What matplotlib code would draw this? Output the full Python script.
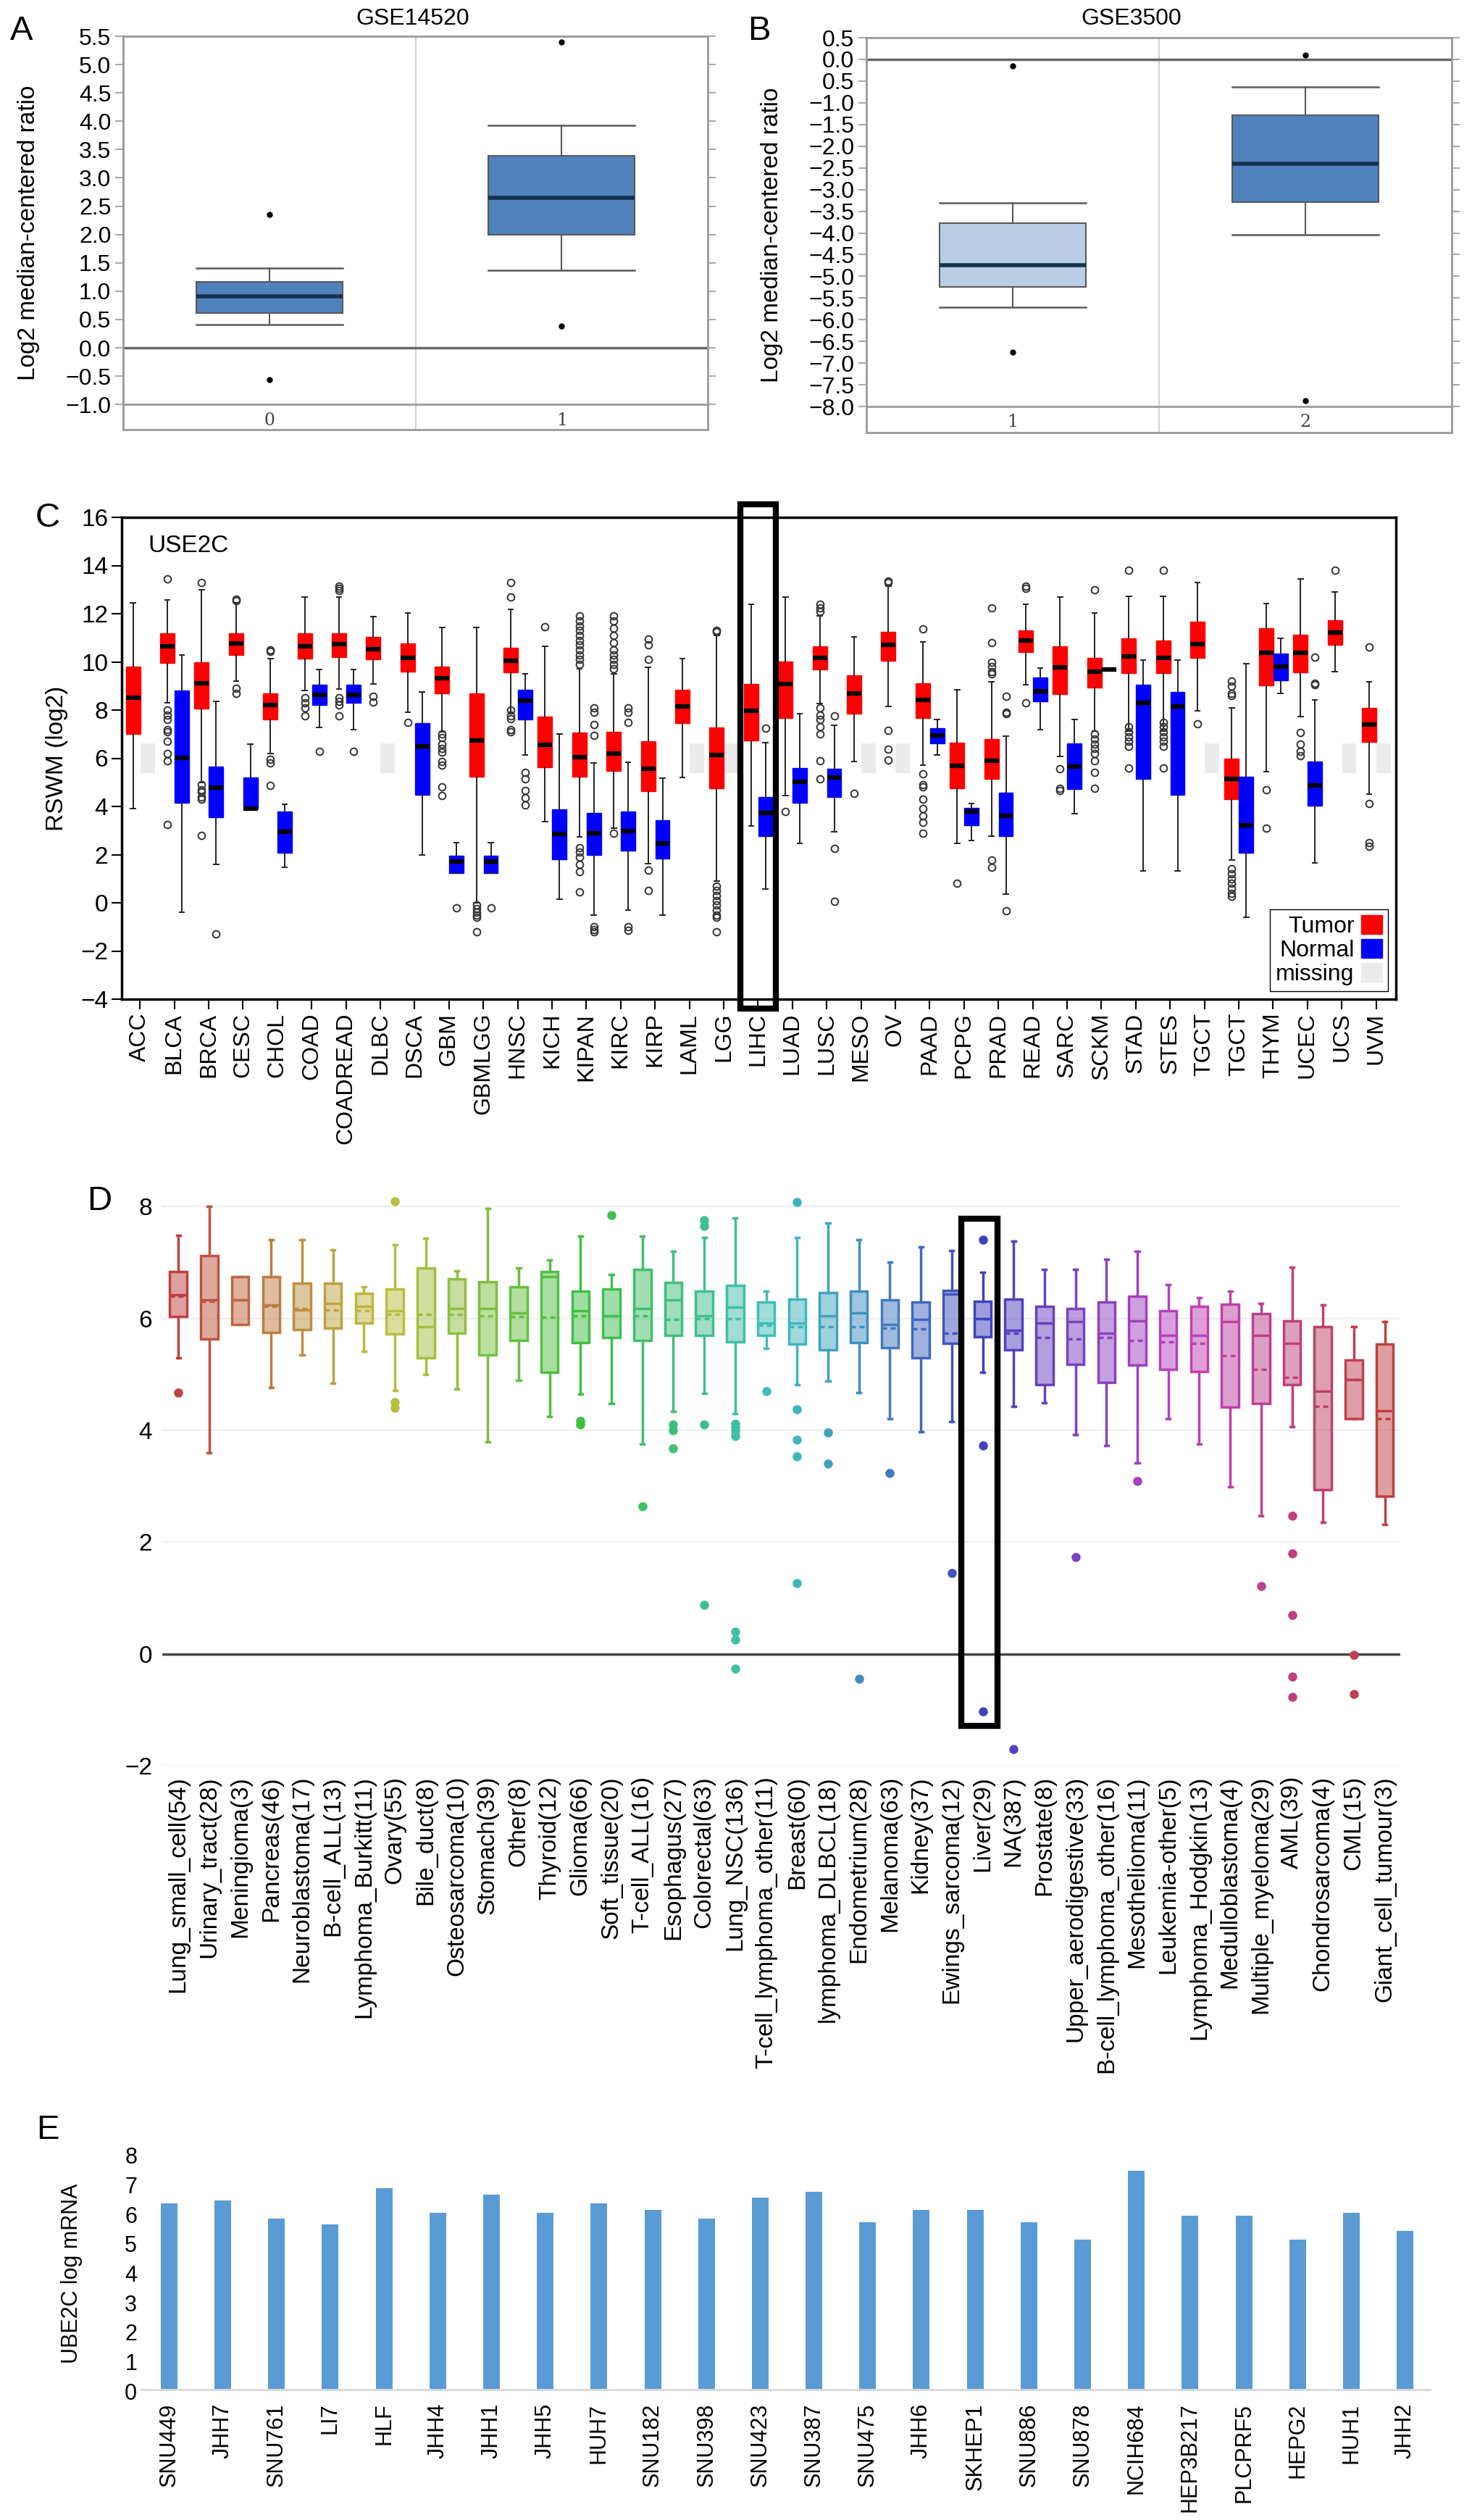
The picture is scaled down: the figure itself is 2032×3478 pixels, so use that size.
import colorsys
import numpy as np
import matplotlib
matplotlib.use('Agg')
import matplotlib.pyplot as plt
from matplotlib.patches import Rectangle, Patch

plt.rcParams['font.family'] = ['Liberation Sans', 'DejaVu Sans']
plt.rcParams['axes.unicode_minus'] = True

W, H = 2032, 3478

# ---- panel A / B : Oncomine boxes (whislo, q1, med, q3, whishi)
a_groups = ['0', '1']
a_boxes = [(0.41, 0.62, 0.91, 1.17, 1.41), (1.37, 2.00, 2.65, 3.39, 3.93)]
a_out = [[2.36, -0.56], [5.40, 0.38]]
a_fill = ['#4f81bd', '#4f81bd']

b_groups = ['1', '2']
b_boxes = [(-5.71, -5.25, -4.75, -3.77, -3.31), (-4.05, -3.29, -2.40, -1.28, -0.64)]
b_out = [[-0.15, -6.75], [0.10, -7.87]]
b_fill = ['#b9cde5', '#4f81bd']

# ---- panel C : TCGA tumor / normal
c_types = ['ACC', 'BLCA', 'BRCA', 'CESC', 'CHOL', 'COAD', 'COADREAD', 'DLBC', 'DSCA', 'GBM',
           'GBMLGG', 'HNSC', 'KICH', 'KIPAN', 'KIRC', 'KIRP', 'LAML', 'LGG', 'LIHC', 'LUAD',
           'LUSC', 'MESO', 'OV', 'PAAD', 'PCPG', 'PRAD', 'READ', 'SARC', 'SCKM', 'STAD',
           'STES', 'TGCT', 'TGCT', 'THYM', 'UCEC', 'UCS', 'UVM']
c_tumor = [(3.9, 7.0, 8.5, 9.8, 12.45), (8.3, 9.95, 10.66, 11.2, 12.56), (5.0, 8.05, 9.1, 10.0, 13.0),
           (9.2, 10.3, 10.78, 11.2, 12.45), (6.2, 7.62, 8.2, 8.7, 10.14), (8.8, 10.14, 10.66, 11.2, 12.7),
           (8.86, 10.2, 10.73, 11.2, 12.68), (9.09, 10.1, 10.54, 11.03, 11.89), (7.9, 9.58, 10.17, 10.78, 12.04),
           (7.1, 8.68, 9.31, 9.79, 11.44), (0.0, 5.23, 6.74, 8.68, 11.44), (7.9, 9.57, 10.06, 10.58, 12.19),
           (3.36, 5.62, 6.55, 7.74, 10.66), (2.73, 5.23, 6.05, 7.07, 9.7), (3.1, 5.47, 6.2, 7.11, 9.5),
           (1.61, 4.63, 5.57, 6.7, 9.76), (5.2, 7.47, 8.16, 8.83, 10.14), (0.9, 4.75, 6.13, 7.29, 11.1),
           (3.18, 6.73, 7.97, 9.09, 12.38), (4.45, 7.67, 9.09, 10.02, 12.68), (8.27, 9.69, 10.17, 10.66, 11.9),
           (5.87, 7.85, 8.69, 9.43, 11.03), (8.16, 10.06, 10.7, 11.26, 13.13), (5.72, 7.67, 8.42, 9.12, 10.84),
           (2.46, 4.75, 5.69, 6.65, 8.83), (2.76, 5.15, 5.9, 6.8, 9.16), (9.04, 10.4, 10.88, 11.3, 12.38),
           (6.07, 8.67, 9.76, 10.66, 12.68), (7.14, 8.94, 9.58, 10.18, 12.04), (7.14, 9.54, 10.24, 10.99, 12.72),
           (7.14, 9.54, 10.18, 10.88, 12.72), (7.97, 10.17, 10.73, 11.66, 13.3), (1.76, 4.3, 5.13, 5.98, 8.1),
           (5.45, 9.01, 10.39, 11.41, 12.41), (7.74, 9.57, 10.39, 11.14, 13.43), (9.58, 10.7, 11.23, 11.74, 12.9),
           (4.5, 6.67, 7.4, 8.09, 9.16)]
c_tumor_out = [[], [13.45, 8.0, 7.8, 7.6, 7.2, 7.1, 6.7, 6.2, 5.9, 3.25], [13.3, 4.9, 4.7, 4.6, 4.4, 4.3, 2.8],
               [12.6, 12.55, 8.9, 8.7], [10.5, 10.45, 5.95, 5.8, 4.87], [8.5, 8.3, 8.1, 7.75],
               [13.15, 13.05, 12.95, 8.5, 8.35, 8.2, 7.75], [8.57, 8.34], [7.49],
               [7.0, 6.85, 6.6, 6.4, 6.25, 5.85, 5.7, 4.8, 4.45], [-0.1, -0.25, -0.4, -0.5, -0.6, -1.2],
               [13.28, 12.68, 8.0, 7.75, 7.65, 7.2, 7.1], [11.45],
               [11.9, 11.7, 11.5, 11.3, 11.1, 10.9, 10.7, 10.5, 10.3, 10.1, 9.9, 2.3, 2.1, 1.9, 1.6, 1.3, 0.45],
               [11.9, 11.7, 11.4, 11.1, 10.8, 10.5, 10.3, 10.1, 9.9, 9.7, 2.9], [10.95, 10.7, 10.1, 1.35, 0.5],
               [], [11.3, 11.25, 0.7, 0.5, 0.3, 0.1, -0.1, -0.3, -0.5, -0.6, -1.2], [], [3.78],
               [12.4, 12.25, 12.1, 8.1, 7.8, 7.6, 7.3, 7.0, 5.9, 5.15], [4.53], [13.35, 13.3, 7.15, 6.37, 5.92],
               [11.38, 5.35, 4.9, 4.8, 4.3, 3.9, 3.6, 3.35, 2.88], [0.82], [12.23, 10.8, 10.0, 9.8, 9.6, 9.5, 1.76, 1.46],
               [13.15, 13.05, 8.31], [5.57, 4.75, 4.65], [13.0, 7.0, 6.8, 6.6, 6.4, 6.2, 5.9, 5.4, 4.75],
               [13.8, 7.3, 7.1, 6.9, 6.7, 6.5, 5.6], [13.8, 7.5, 7.3, 7.1, 6.9, 6.7, 6.5, 5.6], [7.44],
               [9.2, 9.0, 8.7, 8.6, 1.4, 1.2, 1.0, 0.8, 0.6, 0.4, 0.26], [4.68, 3.1], [7.07, 6.6, 6.3, 6.1],
               [13.8], [10.62, 4.12, 2.5, 2.35]]
c_normal = [None, (-0.4, 4.15, 6.02, 8.82, 10.3), (1.6, 3.55, 4.78, 5.65, 8.37), (3.9, 3.9, 3.9, 5.2, 6.58),
            (1.46, 2.09, 2.95, 3.78, 4.08), (7.29, 8.22, 8.64, 9.06, 9.69), (7.19, 8.3, 8.64, 9.06, 9.69),
            None, (2.0, 4.48, 6.5, 7.47, 8.76), (1.24, 1.24, 1.71, 1.95, 2.5), (1.24, 1.24, 1.71, 1.95, 2.5),
            (6.13, 7.62, 8.39, 8.83, 9.49), (0.14, 1.8, 2.85, 3.88, 7.0), (-0.5, 2.0, 2.88, 3.73, 5.8),
            (-0.29, 2.16, 2.99, 3.78, 5.83), (-0.51, 1.83, 2.48, 3.43, 5.17), None, None,
            (0.56, 2.76, 3.73, 4.38, 6.65), (2.46, 4.15, 5.02, 5.6, 7.85), (2.96, 4.38, 5.2, 5.57, 7.37),
            None, None, (6.13, 6.62, 6.96, 7.26, 7.62), (2.58, 3.21, 3.78, 3.93, 4.11),
            (0.37, 2.76, 3.6, 4.56, 6.92), (7.19, 8.37, 8.79, 9.34, 9.73), (3.7, 4.71, 5.65, 6.62, 7.62),
            (9.69, 9.69, 9.69, 9.69, 9.69), (1.31, 5.15, 8.31, 9.06, 10.09), (1.31, 4.48, 8.16, 8.75, 10.09),
            None, (-0.6, 2.09, 3.21, 5.23, 9.91), (8.68, 9.24, 9.81, 10.36, 10.99), (1.64, 4.03, 4.87, 5.87, 8.42),
            None, None]
c_normal_out = [[], [], [-1.3], [], [], [6.29], [6.29], [], [], [-0.21], [-0.21], [5.4, 5.15, 4.65, 4.35, 4.05],
                [], [8.1, 7.9, 7.4, 6.95, -1.0, -1.1, -1.2], [8.1, 7.9, 7.5, -1.0, -1.15], [], [], [], [7.26], [],
                [7.75, 2.25, 0.07], [], [], [], [], [8.57, 7.9, 7.85, -0.33], [], [], [], [], [], [], [], [],
                [10.21, 9.1, 9.05], [], []]
c_missing = (5.38, 6.62)

# ---- panel D : CCLE cell lines by lineage
d_types = ['Lung_small_cell(54)', 'Urinary_tract(28)', 'Meningioma(3)', 'Pancreas(46)', 'Neuroblastoma(17)',
           'B-cell_ALL(13)', 'Lymphoma_Burkitt(11)', 'Ovary(55)', 'Bile_duct(8)', 'Osteosarcoma(10)',
           'Stomach(39)', 'Other(8)', 'Thyroid(12)', 'Glioma(66)', 'Soft_tissue(20)', 'T-cell_ALL(16)',
           'Esophagus(27)', 'Colorectal(63)', 'Lung_NSC(136)', 'T-cell_lymphoma_other(11)', 'Breast(60)',
           'lymphoma_DLBCL(18)', 'Endometrium(28)', 'Melanoma(63)', 'Kidney(37)', 'Ewings_sarcoma(12)',
           'Liver(29)', 'NA(387)', 'Prostate(8)', 'Upper_aerodigestive(33)', 'B-cell_lymphoma_other(16)',
           'Mesothelioma(11)', 'Leukemia-other(5)', 'Lymphoma_Hodgkin(13)', 'Medulloblastoma(4)',
           'Multiple_myeloma(29)', 'AML(39)', 'Chondrosarcoma(4)', 'CML(15)', 'Giant_cell_tumour(3)']
d_boxes = [(5.3, 6.03, 6.42, 6.84, 7.48), (3.6, 5.63, 6.33, 7.12, 8.0), (5.89, 5.89, 6.33, 6.74, 6.74),
           (4.76, 5.75, 6.24, 6.74, 7.41), (5.35, 5.8, 6.15, 6.63, 7.4), (4.84, 5.83, 6.26, 6.63, 7.22),
           (5.41, 5.91, 6.22, 6.45, 6.56), (4.71, 5.72, 6.14, 6.53, 7.31), (5.0, 5.3, 5.85, 6.9, 7.43),
           (4.74, 5.74, 6.17, 6.7, 6.85), (3.79, 5.35, 6.17, 6.66, 7.96), (4.89, 5.61, 6.1, 6.57, 6.9),
           (4.24, 5.04, 6.74, 6.84, 7.04), (4.65, 5.57, 6.13, 6.48, 7.47), (4.48, 5.66, 6.04, 6.53, 6.79),
           (3.75, 5.6, 6.17, 6.88, 7.47), (4.33, 5.69, 6.33, 6.64, 7.2), (4.66, 5.69, 6.04, 6.48, 7.44),
           (4.3, 5.58, 6.2, 6.59, 7.79), (5.46, 5.7, 5.91, 6.29, 6.49), (4.82, 5.54, 5.91, 6.35, 7.44),
           (4.88, 5.44, 6.04, 6.46, 7.71), (4.67, 5.56, 6.1, 6.49, 7.4), (4.2, 5.47, 5.89, 6.33, 7.01),
           (3.97, 5.3, 5.98, 6.29, 7.28), (4.16, 5.55, 6.43, 6.5, 7.21), (5.03, 5.67, 5.99, 6.31, 6.82),
           (4.43, 5.44, 5.79, 6.35, 7.38), (4.49, 4.82, 5.91, 6.21, 6.88), (3.92, 5.18, 5.94, 6.17, 6.87),
           (3.73, 4.86, 5.73, 6.29, 7.05), (3.42, 5.17, 5.96, 6.39, 7.2), (4.2, 5.09, 5.69, 6.14, 6.6),
           (3.75, 5.05, 5.7, 6.21, 6.37), (2.99, 4.41, 5.94, 6.25, 6.49), (2.47, 4.48, 5.69, 6.08, 6.27),
           (4.06, 4.82, 5.55, 5.95, 6.92), (2.35, 2.93, 4.7, 5.85, 6.24), (4.2, 4.2, 4.9, 5.25, 5.85),
           (2.31, 2.82, 4.35, 5.54, 5.94)]
d_means = [6.39, 6.3, 6.33, 6.22, 6.17, 6.15, 6.14, 6.07, 6.07, 6.07, 6.04, 6.03, 6.02, 6.04, 6.04, 6.04,
           5.98, 6.0, 6.0, 5.88, 5.85, 5.85, 5.85, 5.83, 5.81, 5.73, 5.99, 5.73, 5.66, 5.63, 5.66, 5.61,
           5.58, 5.55, 5.33, 5.09, 4.95, 4.43, 4.9, 4.2]
d_out = [[4.67], [], [], [], [], [], [], [8.09, 4.5, 4.4], [], [], [], [], [], [4.17, 4.1], [7.85], [2.64],
         [4.1, 4.0, 3.67], [7.75, 7.65, 4.1, 0.88], [4.12, 4.05, 3.98, 3.9, 0.4, 0.25, -0.27], [4.7],
         [8.08, 4.37, 3.83, 3.53, 1.26], [3.96, 3.4], [-0.45], [3.23], [], [1.44], [7.4, 3.73, -1.03], [-1.7],
         [], [1.73], [], [3.09], [], [], [], [1.21], [2.47, 1.8, 0.7, -0.41, -0.77], [], [-0.02, -0.72], []]

# ---- panel E : liver cancer cell lines
e_lines = ['SNU449', 'JHH7', 'SNU761', 'LI7', 'HLF', 'JHH4', 'JHH1', 'JHH5', 'HUH7', 'SNU182', 'SNU398',
           'SNU423', 'SNU387', 'SNU475', 'JHH6', 'SKHEP1', 'SNU886', 'SNU878', 'NCIH684', 'HEP3B217',
           'PLCPRF5', 'HEPG2', 'HUH1', 'JHH2']
e_mrna = [6.37, 6.47, 5.87, 5.65, 6.89, 6.06, 6.67, 6.06, 6.37, 6.16, 5.87, 6.58, 6.77, 5.74, 6.16, 6.16,
          5.74, 5.14, 7.49, 5.96, 5.96, 5.14, 6.06, 5.43]


def px_axes(fig, left, top, right, bottom):
    return fig.add_axes([left / W, 1 - bottom / H, (right - left) / W, (bottom - top) / H])


def to_stats(rows, fliers, means=None):
    out = []
    for i, r in enumerate(rows):
        d = dict(whislo=r[0], q1=r[1], med=r[2], q3=r[3], whishi=r[4], fliers=fliers[i])
        if means is not None:
            d['mean'] = means[i]
        out.append(d)
    return out


def gse_panel(ax, groups, rows, fliers, fills, lo, hi, bottom, ticks, labels, label_y):
    ax.set_xlim(-0.5, len(groups) - 0.5)
    ax.set_ylim(bottom, hi)
    grey = '#5a5a5a'
    bp = ax.bxp(to_stats(rows, fliers), positions=range(len(groups)), widths=0.5, capwidths=0.5,
                patch_artist=True, boxprops=dict(edgecolor=grey, lw=1.5),
                whiskerprops=dict(color=grey, lw=1.5), capprops=dict(color=grey, lw=1.8),
                medianprops=dict(color='#17304f', lw=4),
                flierprops=dict(marker='o', mfc='black', mec='black', ms=5), zorder=3)
    for patch, c in zip(bp['boxes'], fills):
        patch.set_facecolor(c)
    ax.axhline(0, color='#666666', lw=2.5, zorder=2)
    ax.axhline(lo, color='#999999', lw=2, zorder=2)
    ax.axvline(0.5, color='#c8c8c8', lw=1.2, zorder=1)
    for i, g in enumerate(groups):
        ax.text(i, label_y, g, ha='center', va='center', fontsize=17, color='#444444',
                family='DejaVu Serif')
    ax.set_yticks(ticks)
    ax.set_yticklabels(labels)
    ax.set_xticks([])
    ax.tick_params(axis='y', left=True, right=True, direction='out', length=8, width=1.5,
                   color='#aaaaaa', labelsize=23, pad=4)
    for s in ax.spines.values():
        s.set_color('#999999')
        s.set_linewidth(2)
    ax.set_ylabel('Log2 median-centered ratio', fontsize=24)
    ax.yaxis.set_label_coords(-0.142, 0.5)


def fmt(v):
    return f'{v:.1f}'.replace('-', '\u2212')


fig = plt.figure(figsize=(W / 100, H / 100), dpi=100)

# ---------------- A
axA = px_axes(fig, 170, 50, 977, 593)
a_ticks = np.arange(-1.0, 5.51, 0.5)
gse_panel(axA, a_groups, a_boxes, a_out, a_fill, -1.0, 5.5, -1.445, a_ticks,
          [fmt(v) for v in a_ticks], -1.28)
fig.text(570 / W, 1 - 26 / H, 'GSE14520', ha='center', va='center', fontsize=23)

# ---------------- B
axB = px_axes(fig, 1196, 52, 2004, 597)
b_ticks = np.arange(0.5, -8.01, -0.5)
b_labels = [fmt(v) for v in b_ticks]
b_labels[2] = '0.5'
gse_panel(axB, b_groups, b_boxes, b_out, b_fill, -8.0, 0.5, -8.6, b_ticks, b_labels, -8.36)
fig.text(1562 / W, 1 - 26 / H, 'GSE3500', ha='center', va='center', fontsize=23)

# ---------------- C
axC = px_axes(fig, 168, 714, 1927, 1379)
xc = np.arange(len(c_types))
axC.set_xlim(-0.53, len(c_types) - 0.42)
axC.set_ylim(-4, 16)
miss = [i for i, r in enumerate(c_normal) if r is None]
axC.bar(xc[miss] + 0.22, c_missing[1] - c_missing[0], bottom=c_missing[0], width=0.42,
        color='#ebebeb', zorder=1)
box_kw = dict(widths=0.42, capwidths=0.14, patch_artist=True,
              whiskerprops=dict(color='#222222', lw=1.4), capprops=dict(color='#222222', lw=1.4),
              medianprops=dict(color='black', lw=4.5),
              flierprops=dict(marker='o', mfc='none', mec='#333333', ms=7, mew=1.4), zorder=3)
axC.bxp(to_stats(c_tumor, c_tumor_out), positions=xc - 0.2,
        boxprops=dict(facecolor='#ff0000', edgecolor='#ff0000', lw=1), **box_kw)
have = [i for i, r in enumerate(c_normal) if r is not None]
axC.bxp(to_stats([c_normal[i] for i in have], [c_normal_out[i] for i in have]), positions=xc[have] + 0.22,
        boxprops=dict(facecolor='#0000ff', edgecolor='#0000ff', lw=1), **box_kw)
axC.set_xticks(xc)
axC.set_xticklabels(c_types, rotation=90, fontsize=23)
axC.set_yticks(np.arange(-4, 17, 2))
axC.set_yticklabels([str(v).replace('-', '\u2212') for v in range(-4, 17, 2)])
axC.tick_params(direction='out', length=10, width=1.5, labelsize=24)
axC.tick_params(axis='x', labelsize=23)
for s in axC.spines.values():
    s.set_linewidth(2.5)
axC.set_ylabel('RSWM (log2)', fontsize=24)
axC.yaxis.set_label_coords(-0.042, 0.5)
axC.text(0.23, 14.8, 'USE2C', ha='left', va='center', fontsize=24)
li = c_types.index('LIHC')
axC.add_patch(Rectangle((li - 0.51, -4.4), 1.03, 20.93, fill=False, ec='black', lw=6,
                        clip_on=False, zorder=5))
axC.legend([Patch(color='#ff0000'), Patch(color='#0000ff'), Patch(color='#ebebeb')],
           ['Tumor', 'Normal', 'missing'], loc='lower right', markerfirst=False, fontsize=23,
           frameon=True, fancybox=False, edgecolor='black', framealpha=1, handlelength=0.9,
           handleheight=0.9, handletextpad=0.3, labelspacing=0.05, borderpad=0.25,
           borderaxespad=0.35)

# ---------------- D
axD = px_axes(fig, 224, 1642, 1933, 2437)
xd = np.arange(len(d_types))
axD.set_xlim(-0.52, len(d_types) - 0.5)
axD.set_ylim(-2, 8.3)
bp = axD.bxp(to_stats(d_boxes, d_out, d_means), positions=xd, widths=0.55, capwidths=0.12,
             patch_artist=True, showmeans=True, meanline=True, zorder=3)
cols = [colorsys.hls_to_rgb(i / (len(d_types) - 1), 0.5, 0.5) for i in range(len(d_types))]
for i, c in enumerate(cols):
    bp['boxes'][i].set_facecolor((*c, 0.5))
    bp['boxes'][i].set_edgecolor(c)
    bp['boxes'][i].set_linewidth(2.5)
    bp['medians'][i].set_color(c)
    bp['medians'][i].set_linewidth(2.5)
    bp['means'][i].set_color(c)
    bp['means'][i].set_linewidth(2.5)
    bp['means'][i].set_linestyle((0, (2, 1.5)))
    for art in bp['whiskers'][2 * i:2 * i + 2] + bp['caps'][2 * i:2 * i + 2]:
        art.set_color(c)
        art.set_linewidth(2.5)
    bp['fliers'][i].set(marker='o', markerfacecolor=c, markeredgecolor=c, markersize=8)
axD.set_yticks([-2, 0, 2, 4, 6, 8])
axD.set_yticklabels(['\u22122', '0', '2', '4', '6', '8'])
axD.yaxis.grid(True, color='#eeeeee', lw=1.5, zorder=0)
axD.set_axisbelow(True)
axD.axhline(0, color='#444444', lw=2.5, zorder=2)
for s in axD.spines.values():
    s.set_visible(False)
axD.set_xticks(xd)
axD.set_xticklabels(d_types, rotation=90, fontsize=24)
axD.tick_params(length=0, labelsize=24, pad=10)
lv = d_types.index('Liver(29)')
axD.add_patch(Rectangle((lv - 0.68, -1.29), 1.17, 9.07, fill=False, ec='black', lw=6,
                        clip_on=False, zorder=5))

# ---------------- E
axE = px_axes(fig, 194, 2975, 1976, 3300)
xe = np.arange(len(e_lines))
axE.bar(xe, e_mrna, width=0.31, color='#5b9bd5', zorder=2)
axE.set_xlim(-0.53, len(e_lines) - 0.51)
axE.set_ylim(0, 8)
axE.axhline(0, color='#d9d9d9', lw=5, zorder=3)
for s in axE.spines.values():
    s.set_visible(False)
axE.set_yticks(range(0, 9))
axE.set_xticks(xe)
axE.set_xticklabels(e_lines, rotation=90, fontsize=22)
axE.tick_params(length=0, labelsize=22)
axE.tick_params(axis='x', pad=12)
axE.set_ylabel('UBE2C log mRNA', fontsize=22)
axE.yaxis.set_label_coords(-0.045, 0.5)

# panel letters
for letter, x, y in [('A', 14, 43), ('B', 1032, 43), ('C', 49, 715), ('D', 120, 1658), ('E', 50, 2940)]:
    fig.text(x / W, 1 - y / H, letter, ha='left', va='center', fontsize=34)

fig.savefig('out.png', dpi=100, facecolor='white')
